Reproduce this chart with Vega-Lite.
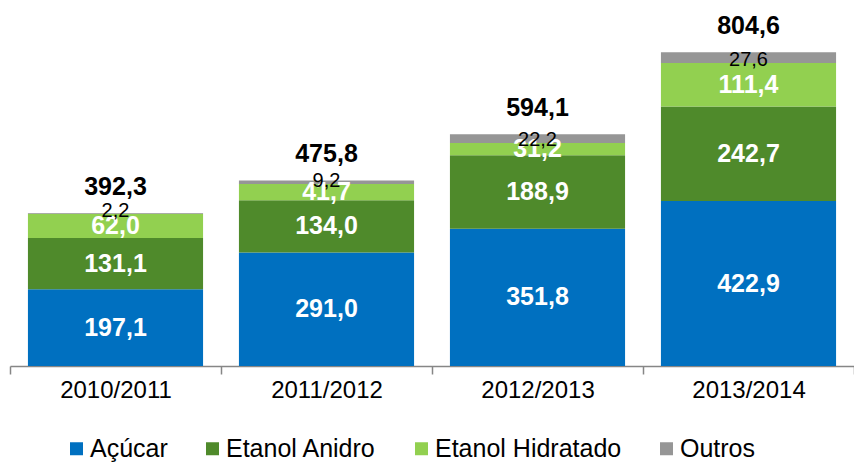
{
  "$schema": "https://vega.github.io/schema/vega-lite/v6.json",
  "width": 844,
  "height": 351,
  "autosize": "none",
  "padding": {"left": 10, "top": 15, "right": 0, "bottom": 96},
  "config": {
    "view": {"stroke": null},
    "font": "Liberation Sans",
    "locale": {"number": {"decimal": ",", "thousands": ".", "grouping": [3], "currency": ["R$", ""]}}
  },
  "datasets": {
    "barras": [
      {"ano": "2010/2011", "serie": "Açúcar", "ordem": 1, "valor": 197.1},
      {"ano": "2010/2011", "serie": "Etanol Anidro", "ordem": 2, "valor": 131.1},
      {"ano": "2010/2011", "serie": "Etanol Hidratado", "ordem": 3, "valor": 62.0},
      {"ano": "2010/2011", "serie": "Outros", "ordem": 4, "valor": 2.2},
      {"ano": "2011/2012", "serie": "Açúcar", "ordem": 1, "valor": 291.0},
      {"ano": "2011/2012", "serie": "Etanol Anidro", "ordem": 2, "valor": 134.0},
      {"ano": "2011/2012", "serie": "Etanol Hidratado", "ordem": 3, "valor": 41.7},
      {"ano": "2011/2012", "serie": "Outros", "ordem": 4, "valor": 9.2},
      {"ano": "2012/2013", "serie": "Açúcar", "ordem": 1, "valor": 351.8},
      {"ano": "2012/2013", "serie": "Etanol Anidro", "ordem": 2, "valor": 188.9},
      {"ano": "2012/2013", "serie": "Etanol Hidratado", "ordem": 3, "valor": 31.2},
      {"ano": "2012/2013", "serie": "Outros", "ordem": 4, "valor": 22.2},
      {"ano": "2013/2014", "serie": "Açúcar", "ordem": 1, "valor": 422.9},
      {"ano": "2013/2014", "serie": "Etanol Anidro", "ordem": 2, "valor": 242.7},
      {"ano": "2013/2014", "serie": "Etanol Hidratado", "ordem": 3, "valor": 111.4},
      {"ano": "2013/2014", "serie": "Outros", "ordem": 4, "valor": 27.6}
    ],
    "totais": [
      {"ano": "2010/2011", "total": 392.3},
      {"ano": "2011/2012", "total": 475.8},
      {"ano": "2012/2013", "total": 594.1},
      {"ano": "2013/2014", "total": 804.6}
    ]
  },
  "layer": [
    {
      "data": {"name": "barras"},
      "mark": {"type": "bar", "width": {"band": 0.83}},
      "encoding": {
        "x": {
          "field": "ano", "type": "nominal",
          "scale": {"paddingInner": 0, "paddingOuter": 0},
          "axis": {
            "title": null, "labelAngle": 0, "grid": false,
            "domainColor": "#868686", "domainWidth": 1.5,
            "tickColor": "#868686", "tickWidth": 1.5, "tickSize": 8, "tickBand": "extent",
            "labelFontSize": 24, "labelColor": "black", "labelPadding": 4, "labelFont": "Liberation Sans"
          }
        },
        "y": {"field": "valor", "type": "quantitative", "stack": "zero", "scale": {"domain": [0, 900]}, "axis": null},
        "color": {
          "field": "serie", "type": "nominal",
          "scale": {
            "domain": ["Açúcar", "Etanol Anidro", "Etanol Hidratado", "Outros"],
            "range": ["#0070C0", "#4F8A2B", "#92D050", "#969696"]
          },
          "legend": {
            "orient": "none", "legendX": 54, "legendY": 421, "direction": "horizontal",
            "title": null, "symbolType": "square", "symbolSize": 169, "symbolStrokeWidth": 0,
            "labelFontSize": 25, "labelFont": "Liberation Sans", "labelColor": "black", "labelLimit": 400,
            "columnPadding": 32, "labelOffset": 1
          }
        },
        "order": {"field": "ordem", "type": "quantitative"}
      }
    },
    {
      "data": {"name": "barras"},
      "transform": [
        {"stack": "valor", "groupby": ["ano"], "sort": [{"field": "ordem", "order": "ascending"}], "as": ["y0", "y1"]},
        {"filter": "datum.serie !== 'Outros'"},
        {"calculate": "(datum.y0 + datum.y1) / 2", "as": "meio"}
      ],
      "mark": {"type": "text", "color": "white", "fontWeight": "bold", "fontSize": 25, "baseline": "middle", "font": "Liberation Sans"},
      "encoding": {
        "x": {"field": "ano", "type": "nominal"},
        "y": {"field": "meio", "type": "quantitative"},
        "text": {"field": "valor", "type": "quantitative", "format": ".1f"}
      }
    },
    {
      "data": {"name": "barras"},
      "transform": [
        {"stack": "valor", "groupby": ["ano"], "sort": [{"field": "ordem", "order": "ascending"}], "as": ["y0", "y1"]},
        {"filter": "datum.serie === 'Outros'"}
      ],
      "mark": {"type": "text", "color": "black", "fontSize": 20, "baseline": "middle", "dy": -3, "font": "Liberation Sans"},
      "encoding": {
        "x": {"field": "ano", "type": "nominal"},
        "y": {"field": "y0", "type": "quantitative"},
        "text": {"field": "valor", "type": "quantitative", "format": ".1f"}
      }
    },
    {
      "data": {"name": "totais"},
      "mark": {"type": "text", "color": "black", "fontWeight": "bold", "fontSize": 25, "baseline": "middle", "dy": -26, "font": "Liberation Sans"},
      "encoding": {
        "x": {"field": "ano", "type": "nominal"},
        "y": {"field": "total", "type": "quantitative"},
        "text": {"field": "total", "type": "quantitative", "format": ".1f"}
      }
    }
  ]
}
